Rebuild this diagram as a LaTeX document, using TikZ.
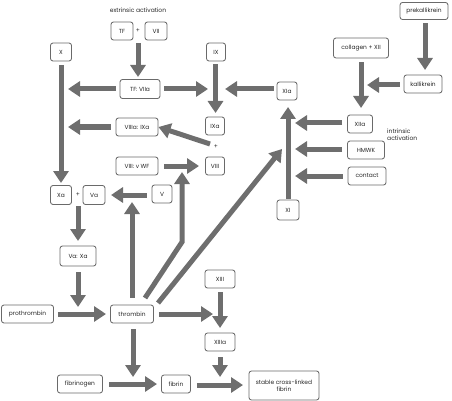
\documentclass[tikz,border=0pt]{standalone}
\usepackage{fontspec}
\setmainfont{Poppins}
\usetikzlibrary{arrows.meta}
\definecolor{arrgray}{HTML}{6E6E6E}
\definecolor{boxgray}{HTML}{6A6A6A}
\definecolor{txtgray}{HTML}{262626}
\tikzset{
  box/.style={draw=boxgray, line width=0.85pt, rounded corners=2.5pt, fill=white,
    minimum height=18pt, inner sep=1pt, text=txtgray,
    font=\fontsize{5.9}{6.9}\selectfont, align=center},
  lbl/.style={text=txtgray, font=\fontsize{6}{7.2}\selectfont, inner sep=0pt},
  arr/.style={draw=arrgray, line width=5pt,
    -{Triangle[width=15pt,length=12pt]}, arrgray}
}
\begin{document}
\begin{tikzpicture}[x=1pt,y=-1pt]
\useasboundingbox (0,0) rectangle (452,401);
% nodes
\node[lbl] (ext) at (138,10) {extrinsic activation};
\node[box, minimum width=22pt] (TF) at (122,31) {TF};
\node[lbl] (p1) at (138,31) {+};
\node[box, minimum width=22pt] (VII) at (156,31) {VII};
\node[box, minimum width=21pt] (X) at (61,52) {X};
\node[box, minimum width=19pt] (IX) at (216,52) {IX};
\node[box, minimum width=40pt, minimum height=19pt] (TFVIIa) at (140,89) {TF: VIIa};
\node[box, minimum width=20pt] (XIa) at (287,91) {XIa};
\node[box, minimum width=19pt] (IXa) at (215,126) {IXa};
\node[box, minimum width=42pt] (VIIIaIXa) at (137,127) {VIIIa: IXa};
\node[lbl] (p2) at (216,147) {+};
\node[box, minimum width=19pt] (VIII) at (215,166) {VIII};
\node[box, minimum width=42pt] (VIIIvWF) at (137,166) {VIII: v WF};
\node[box, minimum width=20pt] (V) at (162,194) {V};
\node[box, minimum width=21pt, minimum height=19pt] (Xa) at (61,195) {Xa};
\node[lbl] (p3) at (78,195) {+};
\node[box, minimum width=22pt, minimum height=19pt] (Va) at (94,195) {Va};
\node[box, minimum width=36pt, minimum height=20pt] (VaXa) at (78,256) {Va: Xa};
\node[box, minimum width=52pt] (pro) at (27.5,314) {prothrombin};
\node[box, minimum width=43pt] (thr) at (132,314) {thrombin};
\node[box, minimum width=30pt] (XIII) at (220,279) {XIII};
\node[box, minimum width=30pt] (XIIIa) at (220,342) {XIIIa};
\node[box, minimum width=45pt] (fgen) at (80,384) {fibrinogen};
\node[box, minimum width=29pt] (fib) at (176,384) {fibrin};
\node[box, minimum width=70pt, minimum height=29pt] (stable) at (284,385.5) {stable cross-linked\\fibrin};
\node[box, minimum width=22pt, minimum height=20pt] (XI) at (288,210) {XI};
\node[box, minimum width=25pt] (XIIa) at (360,124) {XIIa};
\node[box, minimum width=37pt] (HMWK) at (366,150) {HMWK};
\node[box, minimum width=38pt] (contact) at (367,176) {contact};
\node[lbl, anchor=west, align=left] (intr) at (387,135) {intrinsic\\activation};
\node[box, minimum width=55pt, minimum height=20pt] (coll) at (361,48) {collagen + XII};
\node[box, minimum width=38pt] (kal) at (423,84) {kallikrein};
\node[box, minimum width=48pt, minimum height=17pt] (prek) at (424,11) {prekallikrein};
% free ends
\coordinate (tfvii) at (138,43);
\coordinate (xline1) at (68,89);
\coordinate (ixline1) at (208,89);
\coordinate (ixline2) at (225,89);
\coordinate (xiline1) at (295,123);
\coordinate (xiline2) at (295,149);
\coordinate (xiline3) at (295,176);
\coordinate (xiline4) at (282,149);
\coordinate (xiiline) at (367,85);
\coordinate (xline2) at (68,127);
\coordinate (plusfrom) at (210,144);
\coordinate (vaarrow) at (132,202);
\coordinate (vwfbend) at (182,242);
\coordinate (vwfarrow) at (182,172);
\coordinate (xiiiline) at (213,314);
\coordinate (fibline) at (133,377);
\coordinate (xaplus) at (78,206);
% arrows
\draw[arr] (tfvii) -- (138,77);
\draw[arr] (TFVIIa.west) ++(-4,0) -- (xline1);
\draw[arr] (TFVIIa.east) ++(4,0) -- (ixline1);
\draw[arr] (IX.south) ++(-0.5,3) -- (215.5,113);
\draw[arr] (XIa.west) ++(-3,-2) -- (ixline2);
\draw[arr] (XI.north) ++(0,-1) -- (288,107);
\draw[arr] (XIIa.west) ++(-5,-1) -- (xiline1);
\draw[arr] (HMWK.west) ++(-5,-1) -- (xiline2);
\draw[arr] (contact.west) ++(-5,0) -- (xiline3);
\draw[arr] (coll.south) ++(0,4) -- (361,108);
\draw[arr] (kal.west) ++(-4,1) -- (xiiline);
\draw[arr] (prek.south) ++(1,3.5) -- (425,70);
\draw[arr] (VIIIaIXa.west) ++(-5,0) -- (xline2);
\draw[arr] (plusfrom) -- (VIIIaIXa.east);
\draw[arr] (VIIIvWF.east) ++(6,0) -- (199,166);
\draw[arr] (X.south) ++(0,4) -- (61,183);
\draw[arr] (V.west) ++(-5,1) -- (111,195);
\draw[arr] (xaplus) -- (78,241);
\draw[arr] (VaXa.south) ++(0,6) -- (78,307);
\draw[arr] (pro.east) ++(4,0) -- (106,314);
\draw[arr] (thr.north) ++(0,-7) -- (vaarrow);
\draw[arr] (145,298) -- (vwfbend) -- (vwfarrow);
\draw[arr] (158,303) -- (xiline4);
\draw[arr] (thr.east) ++(5,0) -- (xiiiline);
\draw[arr] (XIII.south) ++(0,4) -- (220,328);
\draw[arr] (XIIIa.south) ++(0,6) -- (220,377);
\draw[arr] (thr.south) ++(1,6) -- (fibline);
\draw[arr] (fgen.east) ++(6,0) -- (157,384);
\draw[arr] (fib.east) ++(6,1) -- (243,385);
\end{tikzpicture}
\end{document}
